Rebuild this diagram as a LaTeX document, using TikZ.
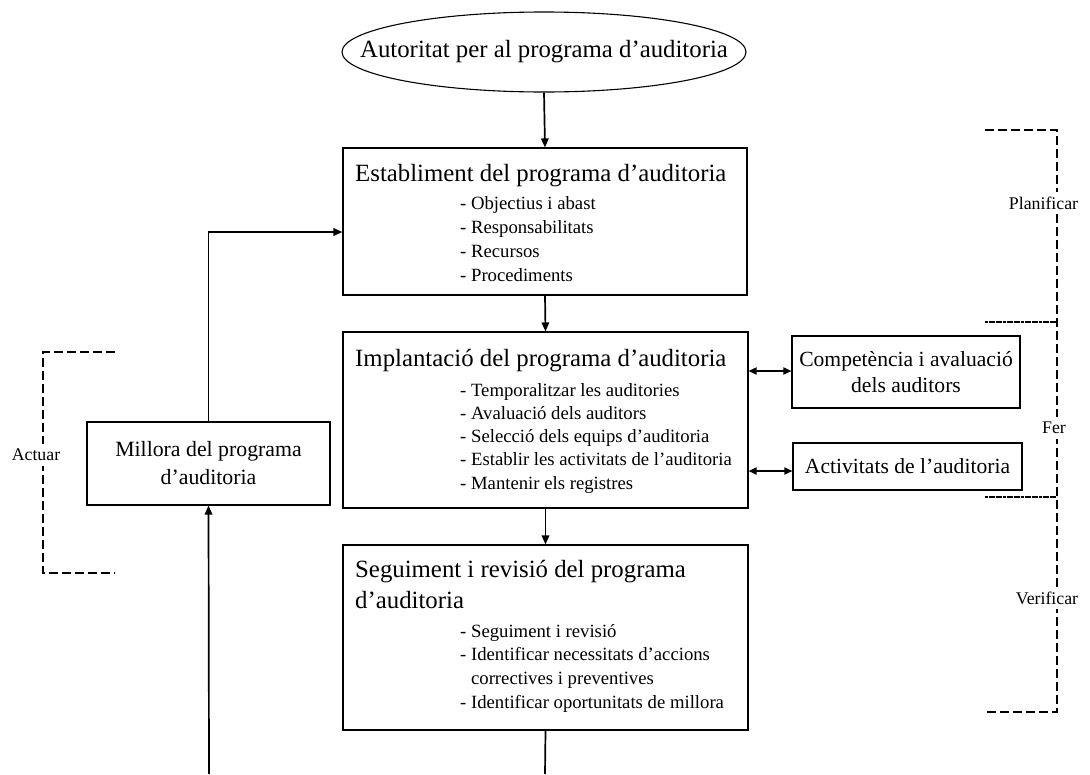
\documentclass[tikz,border=0pt]{standalone}
\usepackage{fontspec}
\setmainfont{Liberation Serif}
\usetikzlibrary{arrows.meta,shapes.geometric}

\tikzset{
  frame/.style={draw, rectangle, line width=1.1pt, inner sep=0pt},
  oval/.style={draw, ellipse, line width=1.1pt, inner sep=0pt,
    font=\fontsize{24.8}{30}\selectfont},
  sidebox/.style={frame, align=center, font=\fontsize{21.6}{26}\selectfont},
  title/.style={anchor=base west, inner sep=0pt, font=\fontsize{24.8}{31}\selectfont},
  itemlist/.style={anchor=base west, inner sep=0pt},
  conn/.style={line width=1.7pt, -{Triangle[length=9pt,width=7.5pt]}},
  twoway/.style={line width=1.7pt, {Triangle[length=8pt,width=7pt]}-{Triangle[length=8pt,width=7pt]}},
  plain/.style={line width=1.7pt},
  phase/.style={line width=1.1pt, dash pattern=on 9pt off 4pt},
  divider/.style={line width=1.1pt, dash pattern=on 3pt off 0.6pt},
  phaselabel/.style={fill=white, inner xsep=1pt, inner ysep=5pt,
    font=\fontsize{17.8}{20}\selectfont}
}

% a list of items with its own line spacing, first baseline at the anchor
\newcommand{\itemsblock}[2]{\fontsize{18.7}{#1}\selectfont\parbox[t]{300pt}{\raggedright #2}}

\begin{document}
\begin{tikzpicture}[x=1pt, y=-1pt]
\useasboundingbox (0,0) rectangle (1090,774);

% main flow
\node[oval, minimum width=404pt, minimum height=80pt] (auth) at (544,52)
  {\makebox[0pt]{Autoritat per al programa d'auditoria}};

\node[frame, minimum width=404pt, minimum height=147pt] (estab) at (545,221.5) {};
\node[title] (estabT) at (355,181) {Establiment del programa d'auditoria};
\node[itemlist] (estabL) at (460,209) {\itemsblock{24.3}{%
  - Objectius i abast\\ - Responsabilitats\\ - Recursos\\ - Procediments}};

\node[frame, minimum width=405pt, minimum height=176pt] (impl) at (545.5,420) {};
\node[title] (implT) at (355,366) {Implantació del programa d'auditoria};
\node[itemlist] (implL) at (460,396) {\itemsblock{23.3}{%
  - Temporalitzar les auditories\\ - Avaluació dels auditors\\
  - Selecció dels equips d'auditoria\\ - Establir les activitats de l'auditoria\\
  - Mantenir els registres}};

\node[frame, minimum width=405pt, minimum height=185pt] (segu) at (545.5,637.5) {};
\node[title] (seguT) at (355,577)
  {\parbox[t]{380pt}{\raggedright Seguiment i revisió del programa\\ d'auditoria}};
\node[itemlist] (seguL) at (460,637) {\itemsblock{23.7}{%
  - Seguiment i revisió\\ - Identificar necessitats d'accions\\
  \hphantom{-\ }correctives i preventives\\ - Identificar oportunitats de millora}};

% side boxes
\node[sidebox, minimum width=228pt, minimum height=72pt] (comp) at (906,372)
  {Competència i avaluació\\ dels auditors};
\node[sidebox, minimum width=229pt, minimum height=47pt] (activ) at (907.5,466.5)
  {Activitats de l'auditoria};
\node[sidebox, minimum width=243pt, minimum height=83pt,
  font=\fontsize{21.8}{28}\selectfont] (mill) at (208.5,463.5)
  {Millora del programa\\ d'auditoria};

% connectors
\draw[conn] (auth.south) -- (estab.north);
\draw[conn] (estab.south) -- (impl.north);
\draw[conn] (impl.south) -- (segu.north);
\coordinate (outR) at (545,774);
\coordinate (outL) at (209,774);
\coordinate (feedY) at (0,232);
\draw[plain] (segu.south) -- (outR);
\draw[conn] (outL) -- (mill.south);
\draw[conn] (mill.north) |- (estab.west |- feedY);
\coordinate (compY) at (0,371);
\coordinate (activY) at (0,471);
\draw[twoway] (impl.east |- compY) -- (comp.west |- compY);
\draw[twoway] (impl.east |- activY) -- (activ.west |- activY);

% PDCA brackets
\coordinate (rTop) at (1057,130);
\coordinate (rTopL) at (985,130);
\coordinate (rBot) at (1057,712);
\coordinate (rBotL) at (985,712);
\coordinate (rD1) at (1057,322);
\coordinate (rD1L) at (985,322);
\coordinate (rD2) at (1057,497);
\coordinate (rD2L) at (985,497);
\draw[phase] (rTopL) -- (rTop) -- (rBot) -- (rBotL);
\draw[divider] (rD1L) -- (rD1);
\draw[divider] (rD2L) -- (rD2);
\node[phaselabel] (plan) at (1043.5,203) {Planificar};
\node[phaselabel] (fer) at (1054,428) {Fer};
\node[phaselabel] (verif) at (1047,598) {Verificar};

\coordinate (lTopR) at (115,352);
\coordinate (lTop) at (43,352);
\coordinate (lBot) at (43,573);
\coordinate (lBotR) at (115,573);
\draw[phase] (lTopR) -- (lTop) -- (lBot) -- (lBotR);
\node[phaselabel] (actuar) at (36,455) {Actuar};
\end{tikzpicture}
\end{document}
